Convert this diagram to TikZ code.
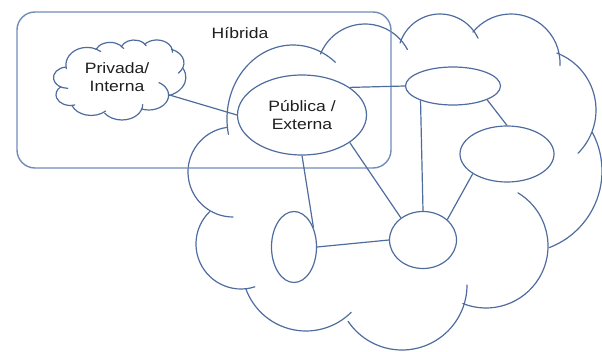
\documentclass[tikz,border=0pt]{standalone}
\usepackage{fontspec}
\setmainfont{Liberation Sans}[FakeStretch=1.17]
\usetikzlibrary{positioning, shapes.geometric}
\definecolor{cloudline}{RGB}{79,108,158}
\definecolor{boxline}{RGB}{112,140,184}
\definecolor{labeltext}{RGB}{30,30,30}

\begin{document}
\begin{tikzpicture}
    [
        x=1pt, y=1pt,
        basic/.style = {draw=cloudline, line width=1.2pt, text=labeltext, align=center, font=\fontsize{15}{18}\selectfont},
        ell/.style = {basic, ellipse, inner sep=0pt},
        hybox/.style = {draw=boxline, line width=1.4pt, rounded corners=18pt},
        link/.style = {draw=cloudline, line width=1.2pt},
        lobe/.style = {draw=cloudline, line width=1.2pt, line cap=round},
        % cloud outline: centre, radii, start and end angle of each lobe
        cloudlobes/.pic = {
            \foreach \cx/\cy/\rx/\ry/\ta/\tb in {293/232/66/74/192/50, 365/279/48/48/158/28,
                440/295/42/42/162/25, 511/288/49/49/141/-3, 535/241/61/61/69/-45,
                520/180/82/82/28/-69, 486/105/62/62/59/-112, 402/66/65/65/0/-146,
                306/84/64/64/-45/-160, 241/107/45/45/-72/-226, 233/179/45/45/98/270}
                \draw [lobe] ({\cx-394.5},{\cy-169}) ++({\ta}:{\rx} and {\ry}) arc[start angle=\ta, end angle=\tb, x radius=\rx, y radius=\ry];
        }
    ]
    \useasboundingbox (0,0) rectangle (602,351);

    \pic (net) at (394.5,169) {cloudlobes};
    \pic [xscale=0.32, yscale=0.238] (privcloud) at (119.5,271) {cloudlobes};

    \node [hybox, minimum width=374pt, minimum height=156pt] (hybrid) at (204,261) {};
    \node [text=labeltext, font=\fontsize{15}{18}\selectfont] (hyblabel) at (240,318) {Híbrida};

    \node [ell, draw=none, minimum width=120pt, minimum height=64pt] (priv) at (117,274) {Privada/\\Interna};

    \node [ell, minimum width=129pt, minimum height=80pt] (pub) at (302,236) {Pública /\\Externa};
    \node [ell, minimum width=95pt, minimum height=38pt] (top) at (453,265) {};
    \node [ell, minimum width=94pt, minimum height=56pt] (right) at (507,197) {};
    \node [ell, minimum width=67pt, minimum height=57pt] (hub) at (423,111) {};
    \node [ell, minimum width=45pt, minimum height=71pt] (low) at (294,104) {};

    \draw [link] (priv.-19) -- (pub.west);
    \draw [link] (pub.30) -- (top.west);
    \draw [link] (pub.south) -- (low.45);
    \draw [link] (pub.-30) -- (hub.135);
    \draw [link] (top.-156) -- (hub.north);
    \draw [link] (top.-22) -- (right.north);
    \draw [link] (right.-150) -- (hub.40);
    \draw [link] (low.east) -- (hub.west);

\end{tikzpicture}
\end{document}
